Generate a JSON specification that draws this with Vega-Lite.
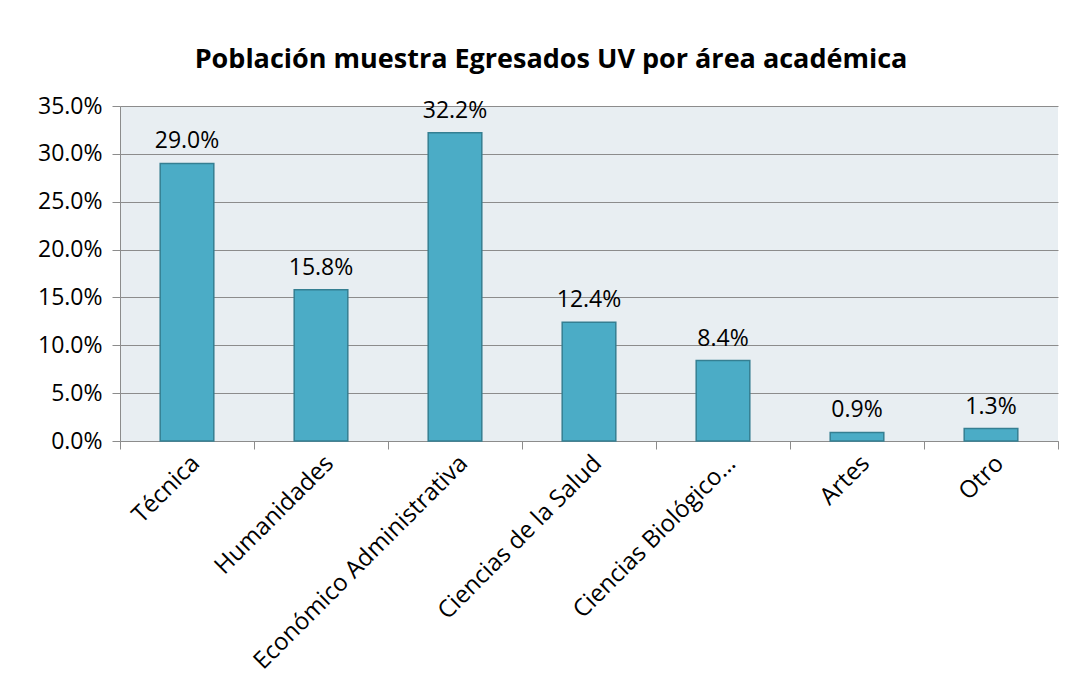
{
  "$schema": "https://vega.github.io/schema/vega-lite/v6.json",
  "autosize": {"type": "none"},
  "width": 938,
  "height": 335,
  "padding": {"left": 120, "top": 106, "right": 11, "bottom": 251},
  "background": "white",
  "title": {
    "text": "Población muestra Egresados UV por área académica",
    "font": "Open Sans",
    "fontSize": 27,
    "fontWeight": "bold",
    "color": "#000000",
    "anchor": "middle",
    "offset": 21,
    "dx": -38
  },
  "data": {
    "values": [
      {"area": "Técnica", "pct": 0.290},
      {"area": "Humanidades", "pct": 0.158},
      {"area": "Económico Administrativa", "pct": 0.322},
      {"area": "Ciencias de la Salud", "pct": 0.124},
      {"area": "Ciencias Biológico…", "pct": 0.084},
      {"area": "Artes", "pct": 0.009},
      {"area": "Otro", "pct": 0.013}
    ]
  },
  "config": {
    "view": {"fill": "#E8EEF2", "stroke": null},
    "font": "Open Sans"
  },
  "encoding": {
    "x": {
      "field": "area",
      "type": "nominal",
      "sort": null,
      "scale": {"paddingInner": 0, "paddingOuter": 0},
      "axis": {
        "title": null,
        "labelAngle": -45,
        "labelAlign": "right",
        "labelBaseline": "top",
        "labelFontSize": 24,
        "labelColor": "#000000",
        "labelFont": "Open Sans",
        "labelPadding": 2,
        "labelLimit": 400,
        "tickBand": "extent",
        "tickSize": 8,
        "tickColor": "#8c8c8c",
        "domainColor": "#8c8c8c",
        "grid": false
      }
    },
    "y": {
      "field": "pct",
      "type": "quantitative",
      "scale": {"domain": [0, 0.35], "nice": false},
      "axis": {
        "title": null,
        "format": ".1%",
        "values": [0, 0.05, 0.1, 0.15, 0.2, 0.25, 0.3, 0.35],
        "labelFontSize": 23,
        "labelColor": "#000000",
        "labelFont": "Open Sans",
        "labelPadding": 10,
        "tickSize": 8,
        "tickColor": "#8c8c8c",
        "domainColor": "#8c8c8c",
        "gridColor": "#8c8c8c",
        "gridOpacity": 1,
        "gridWidth": 1
      }
    }
  },
  "layer": [
    {
      "mark": {"type": "bar", "width": {"band": 0.4}, "fill": "#4BACC6", "stroke": "#357F92", "strokeWidth": 1.5}
    },
    {
      "mark": {"type": "text", "baseline": "bottom", "dy": -10, "fontSize": 23, "color": "#000000", "font": "Open Sans"},
      "encoding": {"text": {"field": "pct", "type": "quantitative", "format": ".1%"}}
    }
  ]
}
